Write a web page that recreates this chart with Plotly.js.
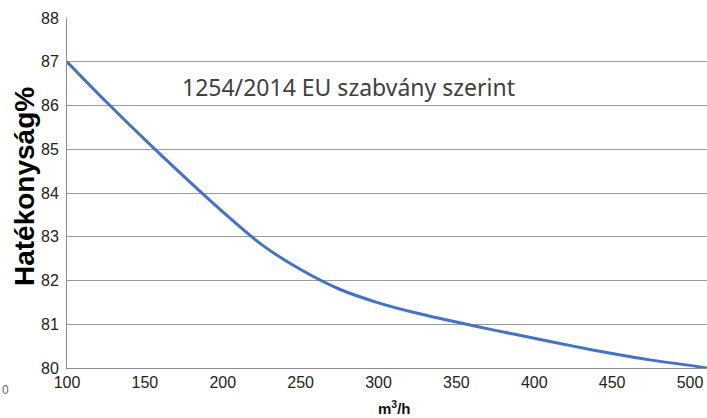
<!DOCTYPE html>
<html>
<head>
<meta charset="utf-8">
<script src="https://cdn.plot.ly/plotly-3.0.1.min.js"></script>
<style>html,body{margin:0;padding:0;background:#fff;}#chart{width:707px;height:418px;}</style>
</head>
<body>
<div id="chart"></div>
<script>
const airflow = [100, 125, 150, 175, 200, 225, 250, 275, 300, 325, 350, 375, 400, 425, 450, 475, 500, 511];
const efficiency = [87.0, 86.09, 85.22, 84.38, 83.57, 82.82, 82.25, 81.8, 81.49, 81.25, 81.05, 80.86, 80.68, 80.5, 80.33, 80.18, 80.06, 80.0];
const xTicks = [100, 150, 200, 250, 300, 350, 400, 450, 500];
const yTicks = [80, 81, 82, 83, 84, 85, 86, 87, 88];
const noteText = "1254/2014 EU szabvány szerint";
const yTitle = "Hatékonyság%";
const xTitle = "m<sup>3</sup>/h";

const W = 707, H = 418, L = 67, R = 0, T = 18, B = 50;
const px2paperX = p => (p - L) / (W - L - R);
const px2paperY = p => (H - B - p) / (H - T - B);

const trace = {
  x: airflow, y: efficiency, type: 'scatter', mode: 'lines',
  line: {color: '#4472C4', width: 3, shape: 'spline', smoothing: 0.8},
  hoverinfo: 'skip'
};

const layout = {
  width: W, height: H,
  margin: {l: L, r: R, t: T, b: B},
  paper_bgcolor: '#fff', plot_bgcolor: '#fff',
  showlegend: false,
  xaxis: {
    range: [100, 510.9], tickvals: xTicks, ticktext: xTicks.map(String),
    showgrid: false, zeroline: false,
    showline: true, linecolor: '#8c8c8c', linewidth: 1,
    ticks: '', tickfont: {family: 'Liberation Sans, Arial, sans-serif', size: 16, color: '#222'}
  },
  yaxis: {
    range: [80, 88], tickvals: yTicks, ticktext: yTicks.map(String),
    showgrid: true, gridcolor: '#9a9a9a', gridwidth: 1, zeroline: false,
    showline: true, linecolor: '#8c8c8c', linewidth: 1,
    ticks: '', ticklabelstandoff: 4,
    tickfont: {family: 'Liberation Sans, Arial, sans-serif', size: 16, color: '#222'}
  },
  annotations: [
    {x: 172.5, y: 86.43, xref: 'x', yref: 'y', xanchor: 'left', yanchor: 'middle',
     text: noteText, showarrow: false,
     font: {family: 'Noto Sans, sans-serif', size: 23, color: '#404040'}},
    {x: px2paperX(24), y: px2paperY(187), xref: 'paper', yref: 'paper', xanchor: 'center', yanchor: 'middle',
     text: yTitle, textangle: -90, showarrow: false,
     font: {family: 'Liberation Sans, Arial, sans-serif', size: 28, color: '#000', weight: 'bold'}},
    {x: px2paperX(394), y: px2paperY(407), xref: 'paper', yref: 'paper', xanchor: 'center', yanchor: 'middle',
     text: xTitle, showarrow: false,
     font: {family: 'Liberation Sans, Arial, sans-serif', size: 15, color: '#111', weight: 'bold'}},
    {x: px2paperX(0), y: px2paperY(390), xref: 'paper', yref: 'paper', xanchor: 'left', yanchor: 'middle',
     text: '0', showarrow: false,
     font: {family: 'Liberation Sans, Arial, sans-serif', size: 12, color: '#666'}}
  ]
};

Plotly.newPlot('chart', [trace], layout, {staticPlot: true, displayModeBar: false});
</script>
</body>
</html>
